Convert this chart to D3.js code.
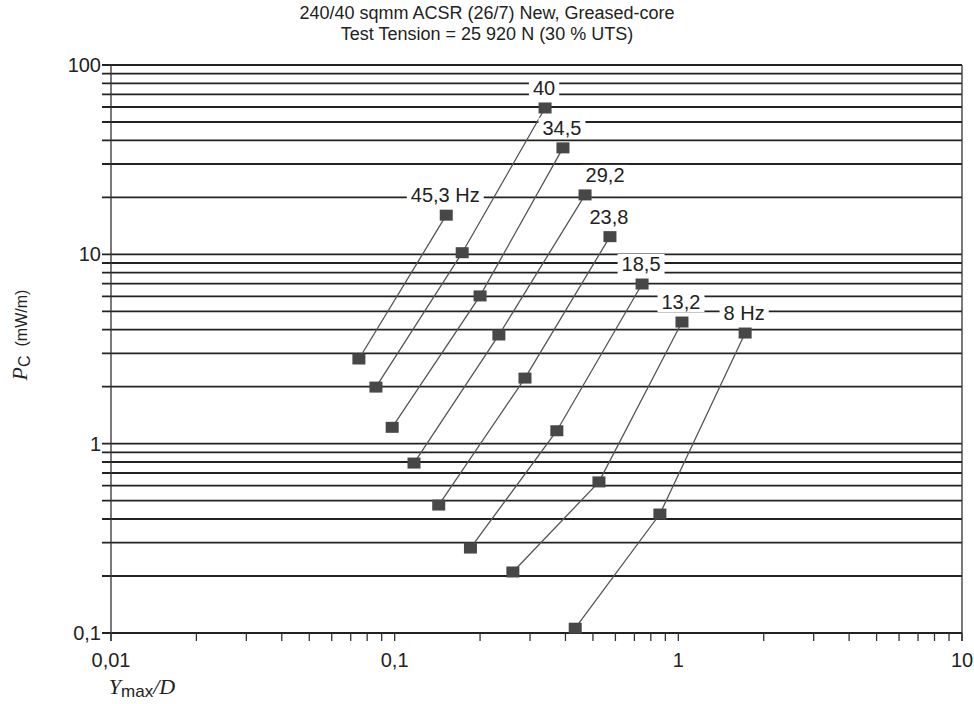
<!DOCTYPE html>
<html>
<head>
<meta charset="utf-8">
<script src="https://cdn.jsdelivr.net/npm/d3@7"></script>
<style>
  body { margin: 0; background: #fff; }
  text { font-family: "Liberation Sans", Arial, sans-serif; fill: #222; }
</style>
</head>
<body>
<div class="vis-chart"></div>
<script>
// frequencies (Hz) and label text
const freqs = [45.3, 40, 34.5, 29.2, 23.8, 18.5, 13.2, 8];
const freqLabels = ["45,3 Hz", "40", "34,5", "29,2", "23,8", "18,5", "13,2", "8 Hz"];

// Ymax/D values per frequency (low, mid, high)
const ymaxD = [
  [0.0748, 0.152],
  [0.0859, 0.173, 0.339],
  [0.098, 0.200, 0.392],
  [0.117, 0.233, 0.469],
  [0.143, 0.288, 0.574],
  [0.185, 0.373, 0.745],
  [0.261, 0.525, 1.03],
  [0.433, 0.861, 1.72]
];
// Pc (mW/m) per frequency
const pc = [
  [2.80, 16.1],
  [1.99, 10.2, 59.3],
  [1.22, 6.03, 36.5],
  [0.79, 3.75, 20.6],
  [0.474, 2.22, 12.4],
  [0.281, 1.17, 6.97],
  [0.210, 0.628, 4.39],
  [0.106, 0.425, 3.84]
];

const xTickValues = [0.01, 0.1, 1, 10];
const yTickValues = [0.1, 1, 10, 100];

const W = 974, H = 704;
const margin = {top: 65, right: 12, bottom: 71, left: 111};
const width = W - margin.left - margin.right;
const height = H - margin.top - margin.bottom;

const svg = d3.select('.vis-chart')
  .append('svg')
  .attr('width', W)
  .attr('height', H);

const g = svg.append('g')
  .attr('transform', 'translate(' + margin.left + ',' + margin.top + ')');

const x = d3.scaleLog().domain([0.01, 10]).range([0, width]);
const y = d3.scaleLog().domain([0.1, 100]).range([height, 0]);

const fmt = d => String(d).replace('.', ',');

// horizontal grid lines at every log step
let yMinor = [];
[0.1, 1, 10].forEach(dec => {
  for (let i = 1; i <= 9; i++) yMinor.push(dec * i);
});
yMinor.push(100);

g.selectAll('.hgrid')
  .data(yMinor)
  .enter().append('line')
  .attr('x1', -9).attr('x2', width)
  .attr('y1', d => y(d)).attr('y2', d => y(d))
  .attr('stroke', '#222')
  .attr('stroke-width', 1.8);

// y axis line and right border
g.append('line').attr('x1', 0).attr('x2', 0).attr('y1', 0).attr('y2', height + 8)
  .attr('stroke', '#333').attr('stroke-width', 1.3);
g.append('line').attr('x1', width).attr('x2', width).attr('y1', 0).attr('y2', height + 8)
  .attr('stroke', '#333').attr('stroke-width', 1.3);

// x ticks (minor) along the bottom
let xMinor = [];
[0.01, 0.1, 1].forEach(dec => {
  for (let i = 1; i <= 9; i++) xMinor.push(dec * i);
});
xMinor.push(10);

g.selectAll('.xtick')
  .data(xMinor)
  .enter().append('line')
  .attr('x1', d => x(d)).attr('x2', d => x(d))
  .attr('y1', height).attr('y2', height + 8)
  .attr('stroke', '#333').attr('stroke-width', 1.3);

g.selectAll('.xlab')
  .data(xTickValues)
  .enter().append('text')
  .attr('x', d => x(d))
  .attr('y', height + 34)
  .attr('text-anchor', 'middle')
  .style('font-size', '20px')
  .text(fmt);

g.selectAll('.ylab')
  .data(yTickValues)
  .enter().append('text')
  .attr('x', -10)
  .attr('y', d => y(d) + 7)
  .attr('text-anchor', 'end')
  .style('font-size', '20px')
  .text(fmt);

// series lines and markers
const line = d3.line()
  .x(d => x(d[0]))
  .y(d => y(d[1]));

freqs.forEach((f, i) => {
  const pts = ymaxD[i].map((v, j) => [v, pc[i][j]]);
  g.append('path')
    .datum(pts)
    .attr('d', line)
    .attr('fill', 'none')
    .attr('stroke', '#555')
    .attr('stroke-width', 1.3);

  g.selectAll('.m' + i)
    .data(pts)
    .enter().append('rect')
    .attr('x', d => x(d[0]) - 6.5)
    .attr('y', d => y(d[1]) - 5.5)
    .attr('width', 13)
    .attr('height', 11)
    .attr('fill', '#474747');

  // label over the top point
  const top = pts[pts.length - 1];
  const dx = f === 29.2 ? 20 : -1;
  const lg = g.append('g');
  const t = lg.append('text')
    .attr('x', x(top[0]) + dx)
    .attr('y', y(top[1]) - 13)
    .attr('text-anchor', 'middle')
    .style('font-size', '20px')
    .text(freqLabels[i]);
  const bb = t.node().getBBox();
  lg.insert('rect', 'text')
    .attr('x', bb.x - 4).attr('y', bb.y + 1)
    .attr('width', bb.width + 8).attr('height', bb.height - 2)
    .attr('fill', '#fff');
});

// title
svg.append('text').attr('x', 487).attr('y', 19).attr('text-anchor', 'middle')
  .style('font-size', '18px').text('240/40 sqmm ACSR (26/7) New, Greased-core');
svg.append('text').attr('x', 487).attr('y', 40).attr('text-anchor', 'middle')
  .style('font-size', '18px').text('Test Tension = 25 920 N (30 % UTS)');

// x axis title
const xt = svg.append('text').attr('x', 142).attr('y', 694).attr('text-anchor', 'middle');
xt.append('tspan').style('font-family', '"Liberation Serif", serif').style('font-style', 'italic')
  .style('font-size', '22px').text('Y');
xt.append('tspan').style('font-size', '17px').attr('dy', 3).text('max');
xt.append('tspan').style('font-family', '"Liberation Serif", serif').style('font-style', 'italic')
  .style('font-size', '22px').attr('dy', -3).text('/D');

// y axis title
const yt = svg.append('text')
  .attr('transform', 'translate(27,335) rotate(-90)')
  .attr('text-anchor', 'middle');
yt.append('tspan').style('font-family', '"Liberation Serif", serif').style('font-style', 'italic')
  .style('font-size', '22px').text('P');
yt.append('tspan').style('font-size', '16px').attr('dy', 3).text('C');
yt.append('tspan').style('font-size', '16px').attr('dy', -3).text('\u00a0\u00a0(mW/m)');
</script>
</body>
</html>
